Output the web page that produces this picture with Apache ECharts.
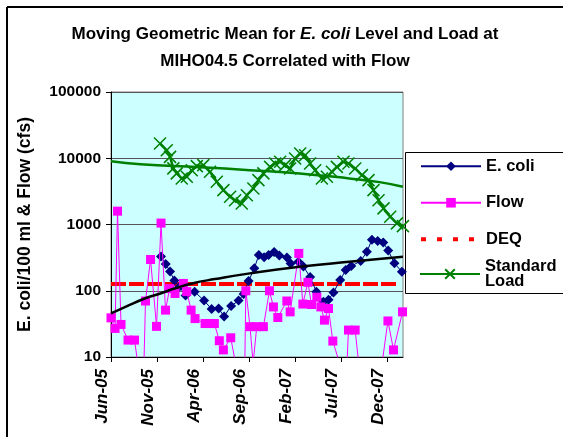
<!DOCTYPE html>
<html>
<head>
<meta charset="utf-8">
<script src="https://cdn.jsdelivr.net/npm/echarts@6/dist/echarts.min.js"></script>
<style>
  html, body { margin: 0; padding: 0; background: #fff; }
  #chart { width: 563px; height: 437px; }
</style>
</head>
<body>
<div id="chart"></div>
<script>
// x values are months elapsed since 1 Jun 2005
var monthLabels = ['Jun-05', 'Nov-05', 'Apr-06', 'Sep-06', 'Feb-07', 'Jul-07', 'Dec-07'];
var labelMonths = [0, 5, 10, 15, 20, 25, 30];

var ecoliMonths = [5.44, 5.95, 6.42, 6.89, 7.43, 8.11, 9.09, 10.12, 10.94, 11.70, 12.30, 13.06, 13.87, 14.42,
  14.96, 15.58, 16.07, 16.65, 17.14, 17.74, 18.30, 19.13, 19.53, 20.38, 20.92, 21.65, 22.33, 23.10, 23.65,
  24.19, 24.92, 25.52, 26.12, 27.15, 27.82, 28.37, 29.00, 29.60, 30.14, 30.82, 31.63];
var ecoliValues = [328, 253, 195, 143, 115, 85, 97, 71, 53, 54, 41, 59, 71, 89,
  140, 218, 345, 319, 345, 384, 340, 317, 257, 274, 233, 161, 97, 68, 73,
  94, 145, 205, 236, 281, 387, 587, 562, 533, 406, 259, 194];

var flowMonths = [0, 0.44, 0.71, 1.09, 1.85, 2.56, 3.16, 3.54, 3.75, 4.30, 4.95, 5.44, 5.93, 6.37, 6.96,
  7.87, 8.24, 8.71, 9.14, 10.23, 10.77, 11.24, 11.78, 12.22, 13.02, 13.82, 14.53, 14.66, 15.12, 15.45,
  15.85, 16.57, 17.23, 17.66, 18.14, 19.12, 19.48, 20.42, 20.86, 21.41, 21.80, 22.38, 22.82, 23.21,
  23.65, 24.12, 25.30, 25.60, 25.82, 26.55, 27.09, 29.27, 30.11, 30.72, 31.70];
var flowValues = [39, 27, 1590, 31, 18, 18, 4.5, 4.5, 70, 296, 29, 1050, 51, 108, 91,
  129, 97, 51, 38, 32, 32, 32, 17.6, 12.8, 19.5, 5, 5, 100, 28.7, 8,
  28.7, 28.7, 100, 57, 39.5, 70, 48, 366, 63, 134, 62, 80, 57, 36,
  54, 17.4, 5, 5, 25.5, 25.5, 5, 5, 35, 12.8, 48];

var deqMonths = [0, 31.2];
var deqValues = [126, 126];

var loadMonths = [5.33, 6.06, 6.42, 6.78, 7.15, 7.69, 8.24, 8.78, 9.33, 10.04, 10.77, 11.50, 12.22, 12.95,
  13.49, 14.22, 14.77, 15.48, 16.03, 16.57, 17.30, 17.85, 18.39, 18.93, 19.48, 20.02, 20.57, 21.11,
  21.65, 22.20, 22.93, 23.47, 24.02, 24.56, 25.28, 25.82, 26.55, 27.28, 28.00, 28.54, 29.09, 29.63,
  30.36, 31.09, 31.74];
var loadValues = [16700, 13200, 10500, 7040, 5910, 4960, 5240, 6610, 7600, 7870, 6240, 4410, 3300, 2620,
  2330, 2080, 2770, 3500, 4680, 5910, 7410, 8350, 8830, 7870, 7020, 9930, 11800, 11100,
  8350, 6610, 4960, 5240, 6240, 7410, 8830, 8350, 7020, 5560, 4680, 3300, 2330, 1750,
  1310, 1040, 946];

// fitted trend curves
var ecoliTrendMonths = [0, 1.57, 3.74, 5.37, 7.0, 8.8, 11.3, 15.1, 20.5, 25.9, 31.74];
var ecoliTrendValues = [45.6, 57, 77, 91, 109, 129, 150, 183, 230, 274, 326];
var loadTrendMonths = [0, 3.2, 9.7, 15.1, 20.5, 25.9, 29.2, 31.74];
var loadTrendValues = [9040, 8150, 7340, 6610, 5900, 4960, 4360, 3710];

function pairs(xs, ys) {
  return xs.map(function (x, i) { return [x, ys[i]]; });
}

var FONT = 'Liberation Sans, Arial, sans-serif';
var crossSymbol = 'path://M0,0L10,10M10,0L0,10';

var chart = echarts.init(document.getElementById('chart'), null, { renderer: 'canvas' });

chart.setOption({
  animation: false,
  backgroundColor: '#ffffff',
  textStyle: { fontFamily: FONT },
  title: {
    text: '{a|Moving Geometric Mean for }{i|E. coli}{a| Level and Load at}\n{a|MIHO04.5 Correlated with Flow}',
    left: 280,
    top: 16,
    textAlign: 'center',
    textStyle: {
      fontFamily: FONT,
      lineHeight: 27,
      rich: {
        a: { fontFamily: FONT, fontSize: 17, fontWeight: 'bold', color: '#000', lineHeight: 27 },
        i: { fontFamily: FONT, fontSize: 17, fontWeight: 'bold', fontStyle: 'italic', color: '#000', lineHeight: 27 }
      }
    }
  },
  graphic: [
    { type: 'line', shape: { x1: 7, y1: 7, x2: 563, y2: 7 }, style: { stroke: '#000', lineWidth: 2 }, z: 0 },
    { type: 'line', shape: { x1: 7, y1: 7, x2: 7, y2: 437 }, style: { stroke: '#000', lineWidth: 2 }, z: 0 },
    { type: 'rect', shape: { x: 405.5, y: 152.5, width: 200, height: 141 },
      style: { fill: '#ffffff', stroke: '#000', lineWidth: 1 }, z: 1 }
  ],
  legend: [
    {
      orient: 'vertical',
      left: 419,
      top: 157,
      padding: 0,
      itemWidth: 60,
      itemHeight: 12,
      itemGap: 18,
      z: 10,
      textStyle: { fontFamily: FONT, fontSize: 16.5, fontWeight: 'bold', color: '#000', lineHeight: 18.5 },
      data: [
        { name: 'E. coli' },
        { name: 'Flow' },
        { name: 'DEQ', itemStyle: { opacity: 0 }, lineStyle: { type: [5, 11], width: 4 } }
      ]
    },
    {
      orient: 'vertical',
      left: 419,
      top: 250,
      padding: 0,
      itemWidth: 60,
      itemHeight: 12,
      z: 10,
      formatter: function () { return 'Standard\nLoad'; },
      textStyle: { fontFamily: FONT, fontSize: 16.5, fontWeight: 'bold', color: '#000', lineHeight: 15.5, padding: [0, 0, 17, 0] },
      data: [{ name: 'Standard Load' }]
    }
  ],
  grid: {
    left: 111,
    top: 92,
    right: 160,
    bottom: 80,
    show: true,
    backgroundColor: '#CCFFFF',
    borderColor: '#808080',
    borderWidth: 1
  },
  xAxis: {
    type: 'value',
    min: 0,
    max: 31.75,
    interval: 5,
    axisLine: { onZero: false, lineStyle: { color: '#000', width: 1 } },
    axisTick: { show: true, length: 5, inside: false, customValues: labelMonths, lineStyle: { color: '#000' } },
    splitLine: { show: false },
    axisLabel: {
      customValues: labelMonths,
      rotate: 90,
      margin: 12,
      verticalAlign: 'bottom',
      fontFamily: FONT,
      fontSize: 17,
      fontWeight: 'bold',
      fontStyle: 'italic',
      color: '#000',
      formatter: function (v) {
        var idx = labelMonths.indexOf(Math.round(v));
        return (idx >= 0 && Math.abs(v - labelMonths[idx]) < 1e-6) ? monthLabels[idx] : '';
      }
    }
  },
  yAxis: {
    type: 'log',
    logBase: 10,
    min: 10,
    max: 100000,
    name: 'E. coli/100 ml & Flow (cfs)',
    nameLocation: 'middle',
    nameGap: 77,
    nameTextStyle: { fontFamily: FONT, fontSize: 17.5, fontWeight: 'bold', color: '#000' },
    axisLine: { show: true, lineStyle: { color: '#000', width: 1 } },
    axisTick: { show: true, length: 5, inside: false, lineStyle: { color: '#000' } },
    minorTick: { show: false },
    splitLine: { show: true, lineStyle: { color: '#555555', width: 1 } },
    axisLabel: {
      margin: 10,
      fontFamily: FONT,
      fontSize: 15.5,
      fontWeight: 'bold',
      color: '#000',
      formatter: function (v) { return String(Math.round(v)); }
    }
  },
  series: [
    {
      name: 'DEQ',
      type: 'line',
      data: pairs(deqMonths, deqValues),
      symbol: 'none',
      color: '#FF0000',
      lineStyle: { color: '#FF0000', width: 4, type: [15, 3] },
      z: 2
    },
    {
      name: 'E. coli',
      type: 'line',
      data: pairs(ecoliMonths, ecoliValues),
      symbol: 'diamond',
      symbolSize: 10,
      color: '#000080',
      itemStyle: { color: '#000080' },
      lineStyle: { color: '#000080', width: 1 },
      z: 3
    },
    {
      name: 'Flow',
      type: 'line',
      data: pairs(flowMonths, flowValues),
      symbol: 'rect',
      symbolSize: 9,
      color: '#FF00FF',
      itemStyle: { color: '#FF00FF' },
      lineStyle: { color: '#FF00FF', width: 1 },
      clip: true,
      z: 4
    },
    {
      name: 'Standard Load',
      type: 'line',
      data: pairs(loadMonths, loadValues),
      symbol: crossSymbol,
      symbolSize: 12,
      color: '#008000',
      itemStyle: { color: '#008000', borderColor: '#008000', borderWidth: 1.5 },
      lineStyle: { color: '#008000', width: 2.5 },
      z: 4
    },
    {
      name: 'E. coli trend',
      type: 'line',
      data: pairs(ecoliTrendMonths, ecoliTrendValues),
      symbol: 'none',
      smooth: true,
      color: '#000',
      lineStyle: { color: '#000', width: 2.5 },
      z: 5
    },
    {
      name: 'Load trend',
      type: 'line',
      data: pairs(loadTrendMonths, loadTrendValues),
      symbol: 'none',
      smooth: true,
      color: '#008000',
      lineStyle: { color: '#008000', width: 2.5 },
      z: 3
    }
  ]
});
</script>
</body>
</html>
